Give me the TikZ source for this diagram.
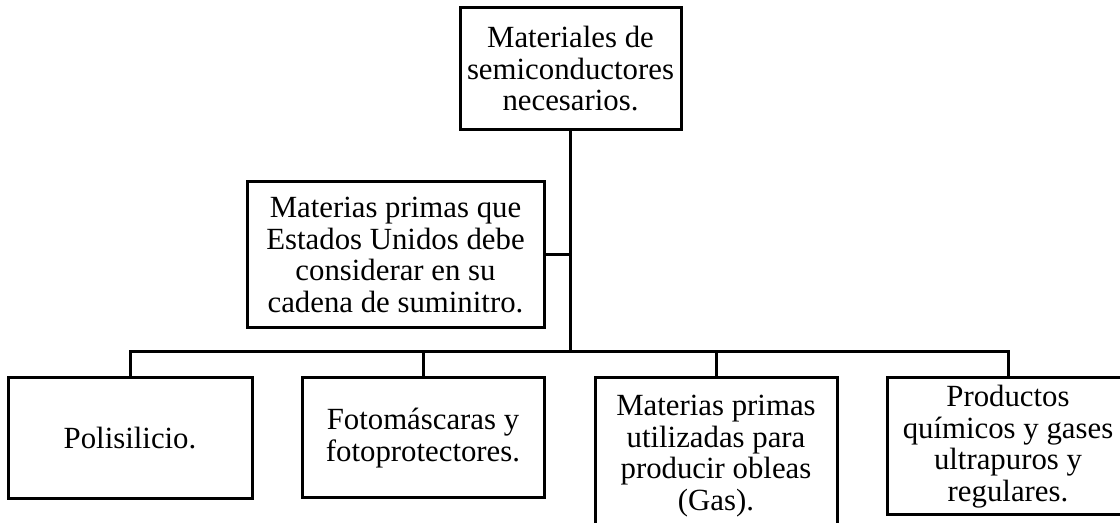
\documentclass[tikz,border=0pt]{standalone}
\usepackage{fontspec}
\setmainfont{Liberation Serif}
\usetikzlibrary{positioning}

\begin{document}
\begin{tikzpicture}[x=0.5pt, y=-0.5pt,
    box/.style={draw, line width=1.5pt, align=center, inner sep=0pt,
        font=\fontsize{15.4}{15.75}\selectfont},
    link/.style={line width=1.5pt}]
    % page frame
    \clip (0,0) rectangle (1120,523);

    % top box
    \node[box, minimum width=110.5pt, minimum height=61pt] (mat) at (570.5,69)
        {Materiales de\\semiconductores\\necesarios.};
    % side box
    \node[box, minimum width=148.5pt, minimum height=73pt] (prim) at (395.5,255)
        {Materias primas que\\Estados Unidos debe\\considerar en su\\cadena de suminitro.};

    % bottom row
    \node[box, minimum width=122pt, minimum height=60.5pt] (poli) at (130,438.5)
        {Polisilicio.};
    \node[box, minimum width=121pt, minimum height=60pt] (foto) at (423,438)
        {Fotomáscaras y\\fotoprotectores.};
    \node[box, minimum width=121pt, minimum height=78pt] (obl) at (716,456)
        {Materias primas\\utilizadas para\\producir obleas\\(Gas).};
    \node[box, minimum width=121pt, minimum height=68.5pt] (quim) at (1008,446.5)
        {Productos\\químicos y gases\\ultrapuros y\\regulares.};

    % connectors
    \coordinate (bus) at (0,352);
    \draw[link] (mat.south) -- (mat.south |- bus);
    \draw[link] (prim.east) -- (prim.east -| mat.south);
    \draw[link] (poli.north) |- (bus -| quim.north) -- (quim.north);
    \draw[link] (foto.north) -- (foto.north |- bus);
    \draw[link] (obl.north) -- (obl.north |- bus);
\end{tikzpicture}
\end{document}
